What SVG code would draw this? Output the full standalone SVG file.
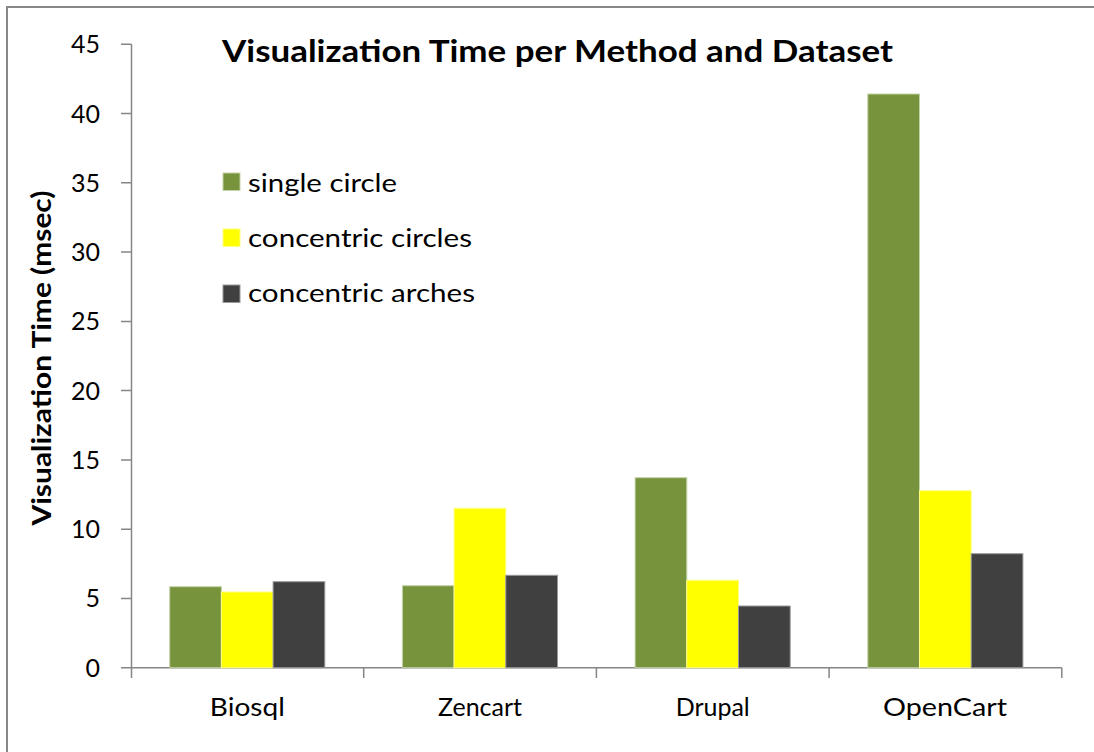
<svg xmlns="http://www.w3.org/2000/svg" width="1094" height="752" viewBox="0 0 1094 752">
<style>
.t{font-family:Lato,"Open Sans","Liberation Sans",sans-serif;fill:#000}
.tick{font-size:25px;text-anchor:end}
.cat{font-size:25px;text-anchor:middle}
.leg{font-size:25px}
.ax{stroke:#868686;stroke-width:1.5;fill:none}
.g{fill:#77933C;stroke:#c4d3a8;stroke-width:1}
.y{fill:#FFFF00;stroke:#ffff80;stroke-width:1}
.d{fill:#404040;stroke:#9a9a9a;stroke-width:1}
</style>
<rect x="0" y="0" width="1094" height="752" fill="#fff"/>
<path d="M7 760 V7 H1100" stroke="#878787" stroke-width="2" fill="none"/>
<text class="t" x="557.5" y="62" font-size="30" font-weight="bold" text-anchor="middle" textLength="671" lengthAdjust="spacingAndGlyphs">Visualization Time per Method and Dataset</text>
<text class="t" transform="translate(51,358) rotate(-90)" font-size="27" font-weight="bold" text-anchor="middle" textLength="335" lengthAdjust="spacingAndGlyphs">Visualization Time (msec)</text>
<g id="axes">
<path class="ax" d="M131.5 44.3 V667.7 M121 667.7 H1061.8 M121 598.4 H131.5 M121 529.2 H131.5 M121 459.9 H131.5 M121 390.6 H131.5 M121 321.4 H131.5 M121 252.1 H131.5 M121 182.8 H131.5 M121 113.6 H131.5 M121 44.3 H131.5 M131.5 667.7 V678 M363.7 667.7 V678 M596.4 667.7 V678 M829.1 667.7 V678 M1061.8 667.7 V678"/>
<g class="t tick">
<text x="100" y="677">0</text>
<text x="100" y="607.4">5</text>
<text x="100" y="538.2">10</text>
<text x="100" y="468.9">15</text>
<text x="100" y="399.6">20</text>
<text x="100" y="330.4">25</text>
<text x="100" y="261.1">30</text>
<text x="100" y="191.8">35</text>
<text x="100" y="122.6">40</text>
<text x="100" y="53.3">45</text>
</g>
</g>
<g id="Biosql">
<rect class="g" x="169.7" y="586.7" width="51.7" height="81"/>
<rect class="y" x="221.4" y="592" width="51.7" height="75.7"/>
<rect class="d" x="273.1" y="581.7" width="51.7" height="86"/>
<text class="t cat" x="247.3" y="716" textLength="75" lengthAdjust="spacingAndGlyphs">Biosql</text>
</g>
<g id="Zencart">
<rect class="g" x="402.4" y="585.7" width="51.7" height="82"/>
<rect class="y" x="454.1" y="508.3" width="51.7" height="159.4"/>
<rect class="d" x="505.8" y="575.3" width="51.7" height="92.4"/>
<text class="t cat" x="480" y="716">Zencart</text>
</g>
<g id="Drupal">
<rect class="g" x="635.1" y="477.7" width="51.7" height="190"/>
<rect class="y" x="686.8" y="580.3" width="51.7" height="87.4"/>
<rect class="d" x="738.5" y="606" width="51.7" height="61.7"/>
<text class="t cat" x="712.7" y="716">Drupal</text>
</g>
<g id="OpenCart">
<rect class="g" x="867.8" y="94" width="51.7" height="573.7"/>
<rect class="y" x="919.5" y="490.7" width="51.7" height="177"/>
<rect class="d" x="971.2" y="553.7" width="51.7" height="114"/>
<text class="t cat" x="945" y="716" textLength="124" lengthAdjust="spacingAndGlyphs">OpenCart</text>
</g>
<g id="legend">
<rect class="g" x="223" y="173" width="17" height="17.5"/>
<text class="t leg" x="248" y="191.7" textLength="149" lengthAdjust="spacingAndGlyphs">single circle</text>
<rect class="y" x="223" y="229" width="17" height="17.5"/>
<text class="t leg" x="248" y="246.7" textLength="224" lengthAdjust="spacingAndGlyphs">concentric circles</text>
<rect class="d" x="223" y="285" width="17" height="17.5"/>
<text class="t leg" x="248" y="301.7" textLength="227" lengthAdjust="spacingAndGlyphs">concentric arches</text>
</g>
</svg>
